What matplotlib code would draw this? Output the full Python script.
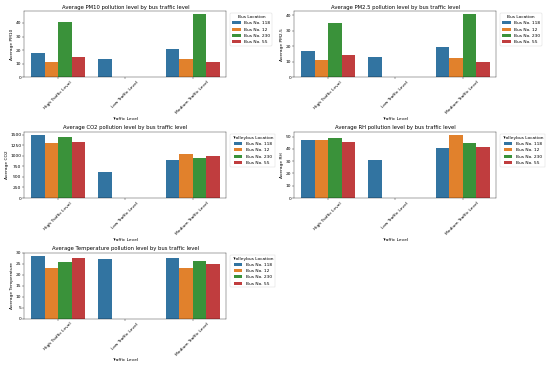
import matplotlib
matplotlib.use('Agg')
import matplotlib.pyplot as plt
import numpy as np

# niveles de trafico y autobuses
niveles = ['High Traffic Level', 'Low Traffic Level', 'Medium Traffic Level']
buses = ['Bus No. 118', 'Bus No. 12', 'Bus No. 230', 'Bus No. 55']

# valores medios por bus (orden: High, Low, Medium)
pm10 = {
    'Bus No. 118': [18.0, 13.2, 20.7],
    'Bus No. 12': [11.5, 0, 13.2],
    'Bus No. 230': [41.0, 0, 46.3],
    'Bus No. 55': [15.1, 0, 11.5],
}
pm25 = {
    'Bus No. 118': [16.9, 13.0, 19.3],
    'Bus No. 12': [10.9, 0, 12.2],
    'Bus No. 230': [35.1, 0, 40.6],
    'Bus No. 55': [14.3, 0, 10.0],
}
co2 = {
    'Bus No. 118': [1491, 607, 899],
    'Bus No. 12': [1317, 0, 1049],
    'Bus No. 230': [1459, 0, 946],
    'Bus No. 55': [1333, 0, 994],
}
rh = {
    'Bus No. 118': [47.6, 31.1, 40.3],
    'Bus No. 12': [47.6, 0, 51.1],
    'Bus No. 230': [49.2, 0, 44.9],
    'Bus No. 55': [45.9, 0, 41.6],
}
temperatura = {
    'Bus No. 118': [28.6, 27.3, 27.9],
    'Bus No. 12': [22.9, 0, 22.9],
    'Bus No. 230': [25.8, 0, 26.2],
    'Bus No. 55': [27.6, 0, 24.8],
}

cores = ['#3274a1', '#e1812c', '#3a923a', '#c03d3e']


def fazer_barras(ax, dados, nome, titulo_legenda):
    '''
    Barras agrupadas por nivel de trafico
    '''
    x = np.arange(len(niveles))
    largura = 0.2
    for i, b in enumerate(buses):
        ax.bar(x + (i - 1.5) * largura, dados[b], width=largura, color=cores[i], label=b)
    ax.set_xticks(x)
    ax.set_xticklabels(niveles, rotation=45)
    ax.set_xlim(-0.5, len(niveles) - 0.5)
    ax.set_xlabel('Traffic Level')
    ax.set_ylabel('Average ' + nome)
    ax.set_title('Average ' + nome + ' pollution level by bus traffic level')
    ax.legend(title=titulo_legenda, bbox_to_anchor=(1.01, 1), loc='upper left')


dpi = 550 / 17.6
fig, axes = plt.subplots(3, 2, figsize=(17.6, 367 / dpi), dpi=dpi)

fazer_barras(axes[0, 0], pm10, 'PM10', 'Bus Location')
fazer_barras(axes[0, 1], pm25, 'PM2.5', 'Bus Location')
fazer_barras(axes[1, 0], co2, 'CO2', 'Trolleybus Location')
fazer_barras(axes[1, 1], rh, 'RH', 'Trolleybus Location')
fazer_barras(axes[2, 0], temperatura, 'Temperature', 'Trolleybus Location')
axes[2, 1].axis('off')

plt.tight_layout()
plt.savefig('out.png', dpi=dpi)
